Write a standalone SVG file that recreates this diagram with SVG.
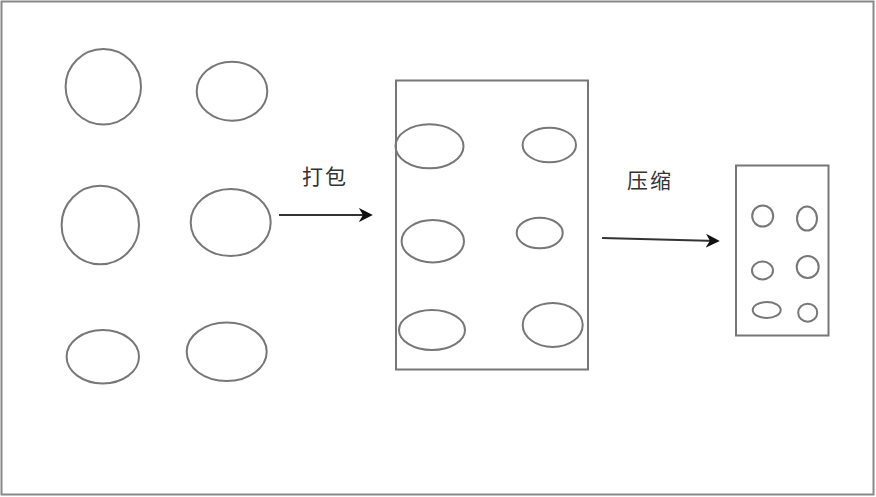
<svg xmlns="http://www.w3.org/2000/svg" width="876" height="497" viewBox="0 0 876 497">
<style>
.s{fill:#fff;stroke:#777;stroke-width:2}
.c{fill:none;stroke:#777;stroke-width:2}
.t{font-family:"Noto Sans CJK SC","Liberation Sans",sans-serif;font-size:21px;fill:#333;letter-spacing:2px}
.e{fill:none;stroke:#333;stroke-width:2}
</style>
<defs>
<marker id="arr" viewBox="0 0 10 10" refX="8" refY="5" markerWidth="14" markerHeight="14" markerUnits="userSpaceOnUse" orient="auto">
<path d="M0,0 L10,5 L0,10 L3,5 Z" fill="#111"/>
</marker>
</defs>
<rect x="0" y="0" width="876" height="497" fill="#fff"/>
<rect x="1.5" y="1.5" width="872" height="493" fill="none" stroke="#888" stroke-width="2"/>
<g id="left-items">
<ellipse class="c" cx="103.3" cy="86.7" rx="37.7" ry="37.7"/>
<ellipse class="c" cx="232" cy="91.2" rx="35.3" ry="29.5"/>
<ellipse class="c" cx="100.3" cy="225" rx="38.7" ry="39.3"/>
<ellipse class="c" cx="230.7" cy="222.5" rx="40" ry="33.5"/>
<ellipse class="c" cx="102.8" cy="356.7" rx="36.2" ry="26.7"/>
<ellipse class="c" cx="226.7" cy="351.8" rx="40" ry="29.2"/>
</g>
<g id="package">
<rect class="s" x="396" y="80.5" width="192" height="289"/>
<ellipse class="c" cx="429.5" cy="146.3" rx="34" ry="22"/>
<ellipse class="c" cx="549.3" cy="145" rx="26.7" ry="17.3"/>
<ellipse class="c" cx="432.8" cy="241.2" rx="31.2" ry="21.2"/>
<ellipse class="c" cx="539.7" cy="233" rx="23" ry="15.3"/>
<ellipse class="c" cx="432" cy="330" rx="33" ry="20"/>
<ellipse class="c" cx="552.7" cy="325" rx="30" ry="22"/>
</g>
<g id="compressed">
<rect class="s" x="736" y="165.5" width="92.5" height="170"/>
<ellipse class="c" cx="762.7" cy="216" rx="10.5" ry="10.5"/>
<ellipse class="c" cx="807" cy="218.5" rx="10" ry="12"/>
<ellipse class="c" cx="762.5" cy="270.5" rx="10.5" ry="9"/>
<ellipse class="c" cx="807.7" cy="267" rx="11" ry="11"/>
<ellipse class="c" cx="766.7" cy="310" rx="14" ry="8"/>
<ellipse class="c" cx="807.7" cy="312.7" rx="9.5" ry="9"/>
</g>
<g id="connectors">
<line class="e" x1="279" y1="215" x2="370" y2="215" marker-end="url(#arr)"/>
<line class="e" x1="602" y1="238" x2="717" y2="241" marker-end="url(#arr)"/>
</g>
<g id="labels">
<text class="t" x="302" y="184">打包</text>
<text class="t" x="627" y="188">压缩</text>
</g>
</svg>
